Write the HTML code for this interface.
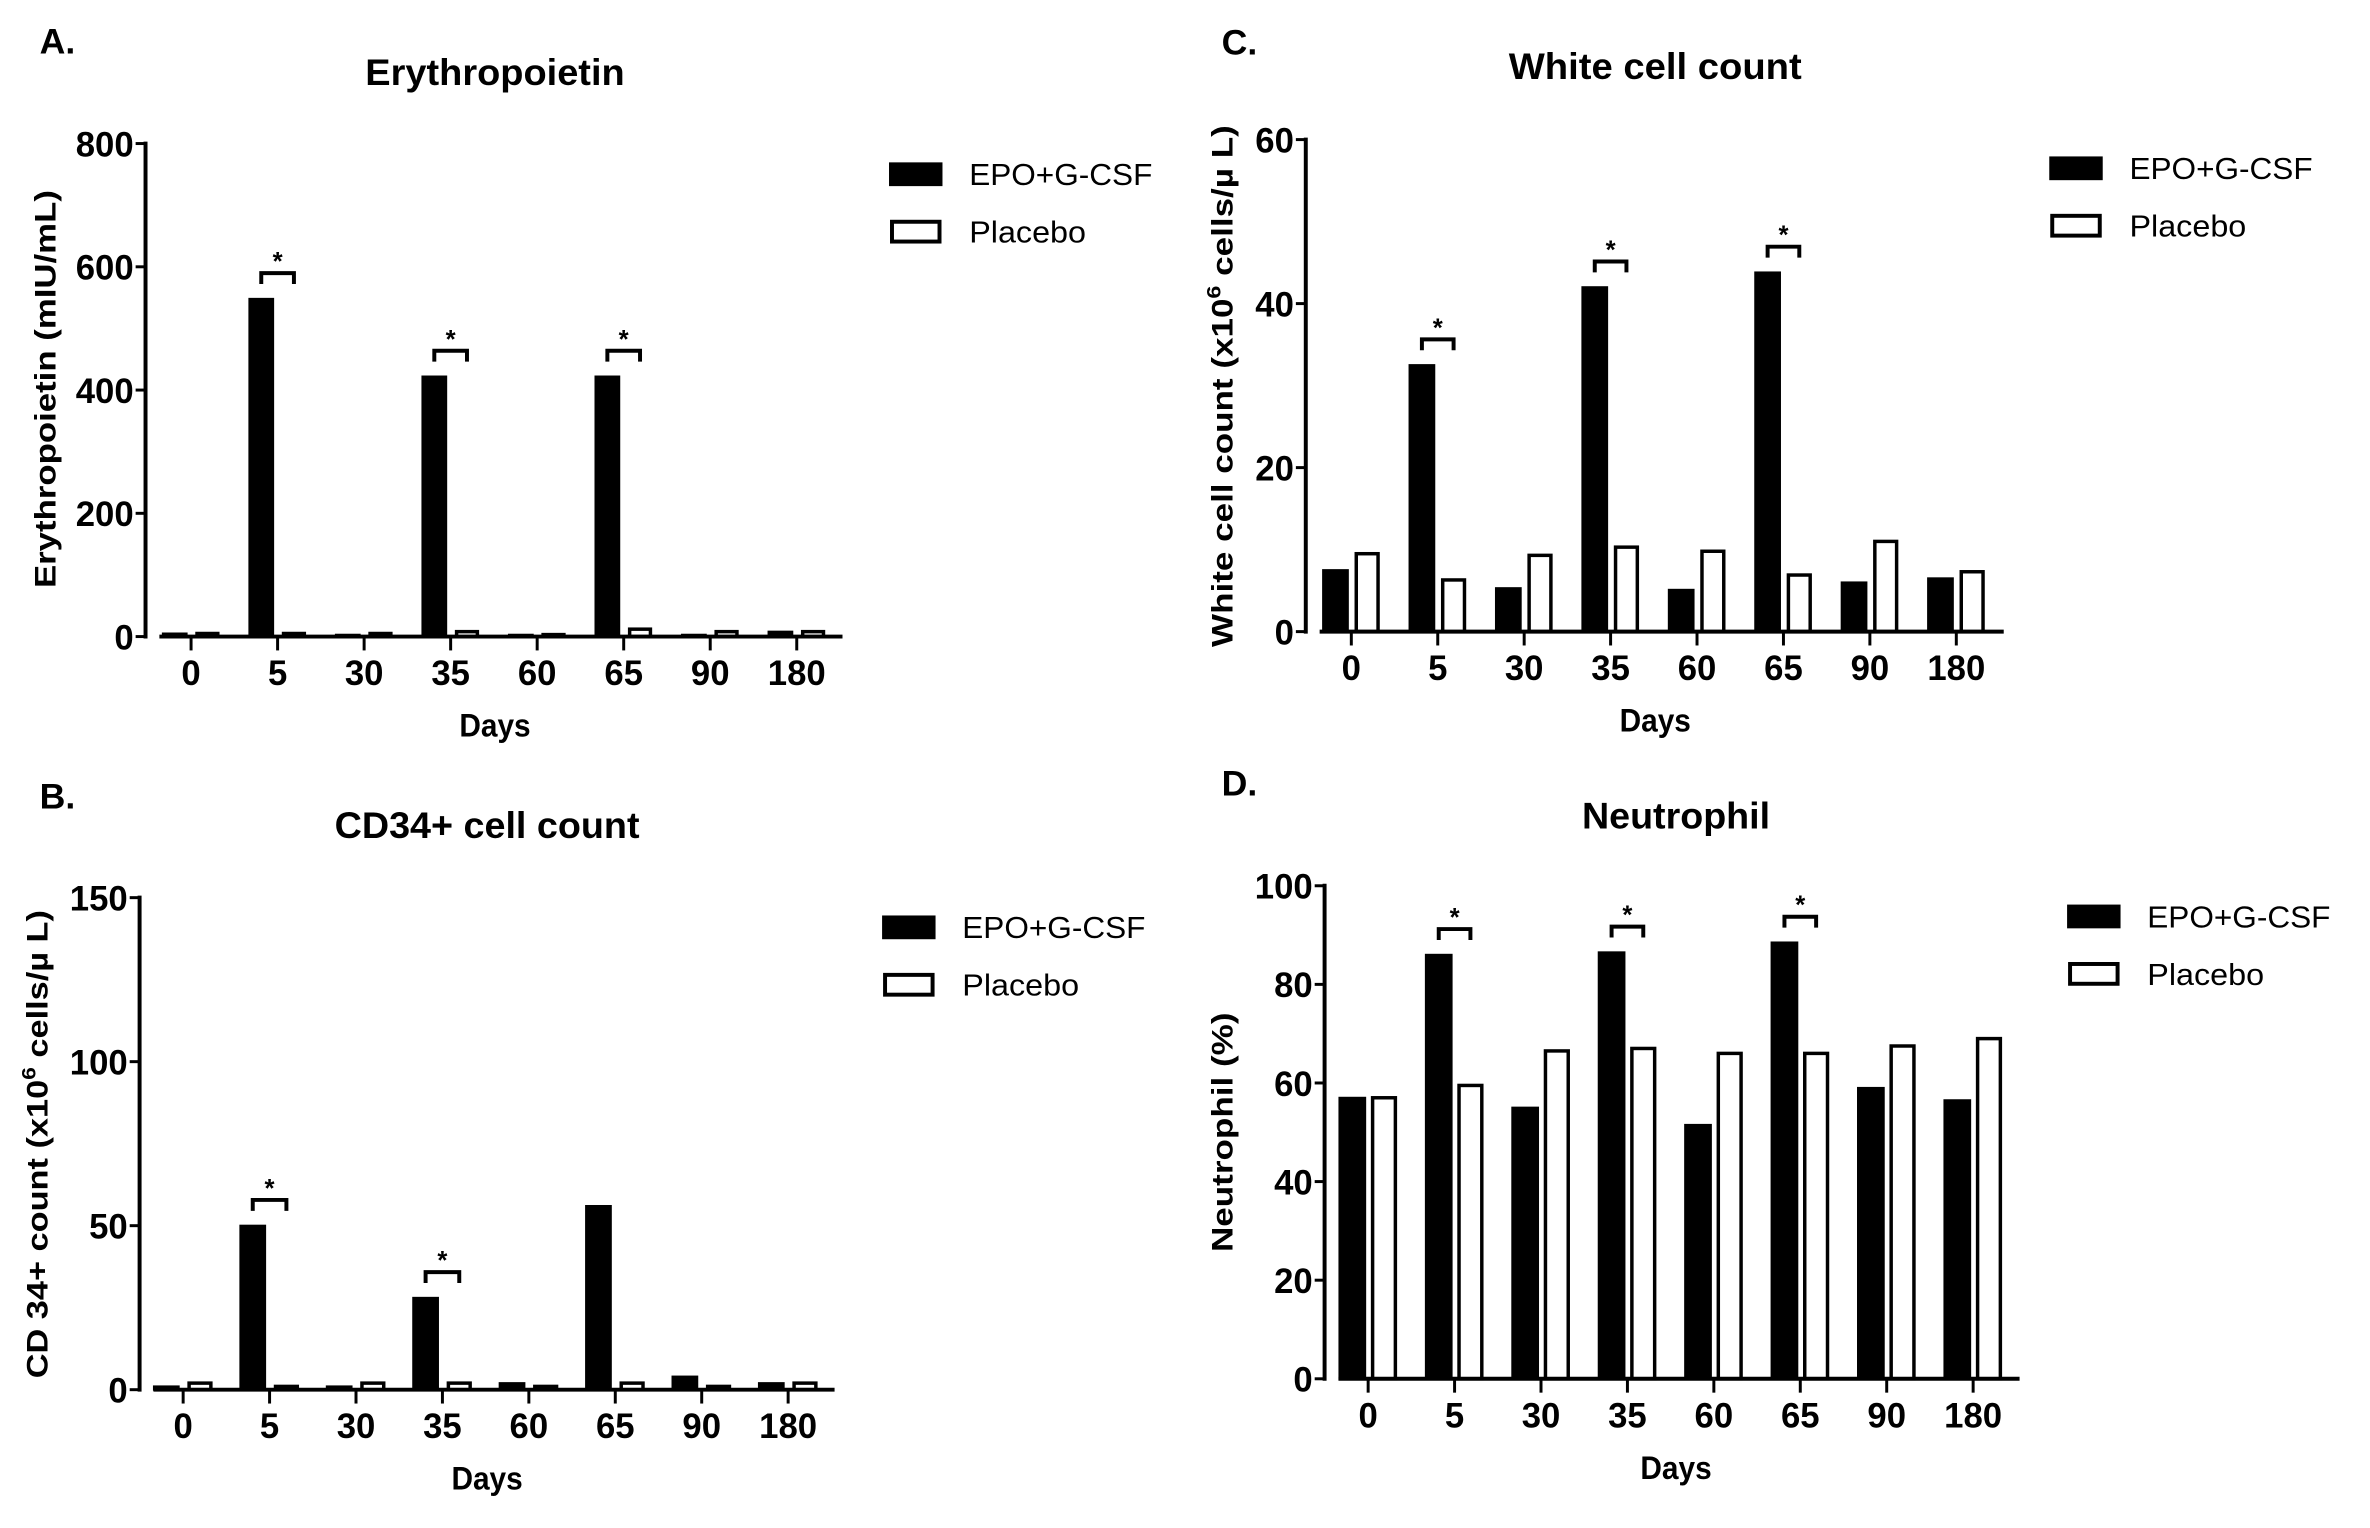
<!DOCTYPE html>
<html><head><meta charset="utf-8"><style>
html,body{margin:0;padding:0;background:#fff;}
svg{display:block;font-family:"Liberation Sans",Arial,sans-serif;}
</style></head><body>
<svg id="fig" width="2370" height="1528" viewBox="0 0 2370 1528"></svg>
<script>
const categories = ["0","5","30","35","60","65","90","180"];
const epoA = [5,548,3,422,3,422,3,8];
const placeboA = [5,5,5,8,3,12,8,8];
const ticksA = [0,200,400,600,800];
const starsA = [1,3,5];
const epoB = [1,50,1,28,2,56,4,2];
const placeboB = [2,1,2,2,1,2,1,2];
const ticksB = [0,50,100,150];
const starsB = [1,3];
const epoC = [7.5,32.5,5.3,42,5.1,43.8,6,6.5];
const placeboC = [9.5,6.3,9.3,10.3,9.8,6.9,11,7.3];
const ticksC = [0,20,40,60];
const starsC = [1,3,5];
const epoD = [57,86,55,86.5,51.5,88.5,59,56.5];
const placeboD = [57,59.5,66.5,67,66,66,67.5,69];
const ticksD = [0,20,40,60,80,100];
const starsD = [1,3,5];

const NS="http://www.w3.org/2000/svg";
const svg=document.getElementById('fig');
function mk(tag,attrs,parent,text){const e=document.createElementNS(NS,tag);for(const k in attrs)e.setAttribute(k,attrs[k]);if(text!==undefined)e.textContent=text;(parent||svg).appendChild(e);return e;}

function panel(p){
  const g=mk('g',{transform:`translate(${p.ox},${p.oy}) scale(0.99) translate(${-p.ox},${-p.oy})`});
  
  
  const ymax=p.ticks[p.ticks.length-1];
  const yS=v=>p.y0-(v/ymax)*(p.y0-p.yTop);
  const xS=i=>p.x0c+i*p.step;
  let t=mk('text',{x:p.lblX,y:p.lblY,'font-size':36,'font-weight':'bold'},g,p.id.toUpperCase()+'.');
  
  t=mk('text',{x:p.titleX,y:p.titleY,'font-size':37,'font-weight':'bold','text-anchor':'middle',textLength:p.titleW,lengthAdjust:'spacingAndGlyphs'},g,p.title);
  
  p.epo.forEach((v,i)=>{
    const r=mk('rect',{x:xS(i)-p.gap/2-p.bw,y:yS(v),width:p.bw,height:p.y0-yS(v),fill:'#000',stroke:'#000','stroke-width':2},g);
    
  });
  p.pla.forEach((v,i)=>{
    const h=Math.max(p.y0-yS(v),2);
    const r=mk('rect',{x:xS(i)+p.gap/2+1.5,y:p.y0-h,width:p.bw-3,height:h,fill:'#fff',stroke:'#000','stroke-width':3.5},g);
    
  });
  p.stars.forEach(i=>{
    const top=yS(p.epo[i])-26;
    const xl=xS(i)-p.gap/2-p.bw/2, xr=xS(i)+p.gap/2+p.bw/2;
    const b=mk('path',{d:`M${xl} ${top+11} V${top} H${xr} V${top+11}`,fill:'none',stroke:'#000','stroke-width':4},g);
    
    const s=mk('text',{x:(xl+xr)/2,y:top-3,'font-size':26,'font-weight':'bold','text-anchor':'middle'},g,'*');
    
  });
  let a=mk('line',{x1:p.ax,y1:p.yTop-2,x2:p.ax,y2:p.y0+2,stroke:'#000','stroke-width':4},g);
  
  a=mk('line',{x1:p.ax+14,y1:p.y0,x2:p.xEnd,y2:p.y0,stroke:'#000','stroke-width':4},g);
  
  p.ticks.forEach(v=>{
    mk('line',{x1:p.ax-10,y1:yS(v),x2:p.ax,y2:yS(v),stroke:'#000','stroke-width':3},g);
    const l=mk('text',{x:p.ax-12,y:yS(v)+13,'font-size':36,'font-weight':'bold','text-anchor':'end',textLength:String(v).length*19.5,lengthAdjust:'spacingAndGlyphs'},g,String(v));
    
  });
  categories.forEach((c,i)=>{
    mk('line',{x1:xS(i),y1:p.y0,x2:xS(i),y2:p.y0+14,stroke:'#000','stroke-width':3},g);
    const l=mk('text',{x:xS(i),y:p.y0+49,'font-size':36,'font-weight':'bold','text-anchor':'middle',textLength:c.length*19.5,lengthAdjust:'spacingAndGlyphs'},g,c);
    
  });
  t=mk('text',{x:p.titleX,y:p.y0+101,'font-size':33,'font-weight':'bold','text-anchor':'middle',textLength:72,lengthAdjust:'spacingAndGlyphs'},g,'Days');
  
  const yt=mk('text',{transform:`translate(${p.ytX},${p.ytC}) rotate(-90)`,'font-size':30,'font-weight':'bold','text-anchor':'middle',textLength:p.ytLen,lengthAdjust:'spacingAndGlyphs'},g);
  
  if(p.sup){
    mk('tspan',{},yt,p.yt[0]);
    mk('tspan',{dy:-12,'font-size':20},yt,'6');
    mk('tspan',{dy:12},yt,p.yt[1]);
  } else yt.textContent=p.yt;
  const lg=mk('g',{},g);
  
  const e1=mk('rect',{x:p.lgX,y:p.lgY,width:52,height:22,fill:'#000',stroke:'#000','stroke-width':2},lg);
  
  const t1=mk('text',{x:p.lgX+80,y:p.lgY+22,'font-size':31,textLength:185,lengthAdjust:'spacingAndGlyphs'},lg,'EPO+G-CSF');
  
  const e2=mk('rect',{x:p.lgX+2,y:p.lgY+59,width:48,height:20,fill:'#fff',stroke:'#000','stroke-width':4},lg);
  
  const t2=mk('text',{x:p.lgX+80,y:p.lgY+80,'font-size':31,textLength:118,lengthAdjust:'spacingAndGlyphs'},lg,'Placebo');
  
}

panel({id:'a',ox:0,oy:0,title:'Erythropoietin',titleX:500,titleY:86,titleW:262,lblX:40,lblY:54,
  ax:147,y0:643,yTop:145,xEnd:851,x0c:193,step:87.4,bw:24,gap:9,
  epo:epoA,pla:placeboA,ticks:ticksA,stars:starsA,
  yt:'Erythropoietin (mIU/mL)',ytX:56,ytC:393,ytLen:402,lgX:899,lgY:165});
panel({id:'b',ox:0,oy:764,title:'CD34+ cell count',titleX:492,titleY:839,titleW:308,lblX:40,lblY:809,
  ax:141,y0:1396,yTop:899,xEnd:843,x0c:185,step:87.3,bw:25,gap:9,
  epo:epoB,pla:placeboB,ticks:ticksB,stars:starsB,sup:true,
  yt:['CD 34+ count (x10',' cells/\u00b5 L)'],ytX:48,ytC:1148,ytLen:473,lgX:892,lgY:918});
panel({id:'c',ox:1185,oy:0,title:'White cell count',titleX:1660,titleY:80,titleW:296,lblX:1222,lblY:55,
  ax:1307,y0:638,yTop:141,xEnd:2012,x0c:1353,step:87.3,bw:25,gap:7,
  epo:epoC,pla:placeboC,ticks:ticksC,stars:starsC,sup:true,
  yt:['White cell count (x10',' cells/\u00b5 L)'],ytX:1233,ytC:390,ytLen:527,lgX:2059,lgY:159});
panel({id:'d',ox:1185,oy:764,title:'Neutrophil',titleX:1681,titleY:829,titleW:190,lblX:1222,lblY:796,
  ax:1326,y0:1385,yTop:887,xEnd:2028,x0c:1370,step:87.3,bw:26,gap:6,
  epo:epoD,pla:placeboD,ticks:ticksD,stars:starsD,
  yt:'Neutrophil (%)',ytX:1233,ytC:1136,ytLen:242,lgX:2077,lgY:907});
</script>
</body></html>
